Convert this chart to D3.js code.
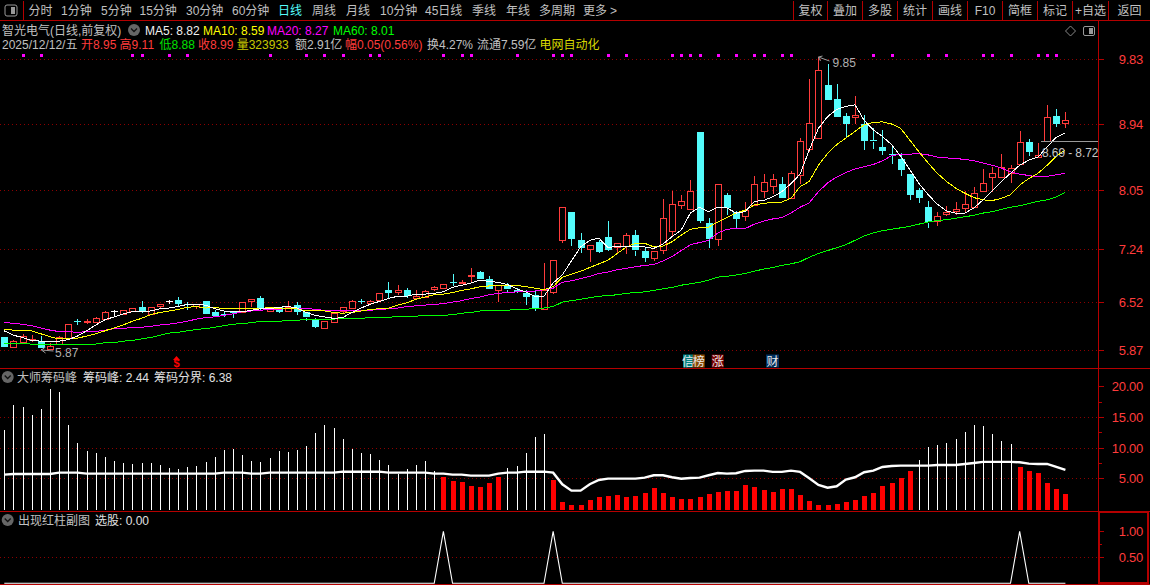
<!DOCTYPE html>
<html>
<head>
<meta charset="utf-8">
<title>智光电气</title>
<script src="https://cdn.jsdelivr.net/npm/d3@7"></script>
<style>
  html, body { margin: 0; padding: 0; background: #000; overflow: hidden; }
  svg { display: block; }
  text { font-family: "Liberation Sans", "Noto Sans CJK SC", sans-serif; font-size: 12px; }
</style>
</head>
<body>
<div id="chart"></div>
<script>
// K线
const opens = [
  6.05,5.91,5.98,6.00,5.99,5.88,5.95,6.03,6.26,6.24,
  6.25,6.29,6.40,6.36,6.40,6.45,6.36,6.47,6.53,6.55,
  6.49,6.47,6.54,6.39,6.36,6.40,6.38,6.53,6.58,6.40,
  6.46,6.40,6.48,6.38,6.29,6.17,6.25,6.40,6.44,6.53,
  6.50,6.55,6.68,6.65,6.68,6.57,6.59,6.69,6.70,6.80,
  6.78,6.87,6.93,6.83,6.68,6.75,6.69,6.64,6.62,6.42,
  6.65,7.36,7.74,7.36,7.24,7.34,7.41,7.27,7.28,7.43,
  7.21,7.11,7.22,7.50,7.84,7.79,8.83,7.59,7.37,7.98,
  7.75,7.69,7.84,8.03,8.10,8.13,7.93,8.25,8.60,8.75,
  9.47,9.28,9.05,9.03,8.94,8.72,8.63,8.53,8.46,8.26,
  8.04,7.81,7.62,7.72,7.75,7.79,7.81,8.03,8.22,8.22,
  8.27,8.39,8.70,8.49,8.72,9.05,8.95];
const closes = [
  5.92,5.99,6.06,6.02,5.89,5.92,6.04,6.22,6.25,6.26,
  6.30,6.38,6.40,6.41,6.44,6.38,6.45,6.50,6.53,6.50,
  6.48,6.50,6.37,6.34,6.35,6.37,6.52,6.56,6.44,6.43,
  6.39,6.46,6.39,6.31,6.18,6.27,6.37,6.46,6.53,6.52,
  6.53,6.64,6.64,6.68,6.60,6.60,6.67,6.72,6.76,6.79,
  6.80,6.89,6.83,6.69,6.75,6.69,6.66,6.59,6.44,6.68,
  7.09,7.81,7.38,7.25,7.29,7.21,7.23,7.32,7.43,7.22,
  7.12,7.21,7.66,7.86,7.89,8.03,7.62,7.37,8.12,7.81,
  7.65,7.77,8.12,8.15,8.19,7.94,8.27,8.71,8.95,9.67,
  9.27,9.04,8.94,9.06,8.71,8.70,8.58,8.52,8.31,7.98,
  7.93,7.60,7.69,7.75,7.78,7.85,8.00,8.14,8.28,8.35,
  8.34,8.69,8.57,8.52,9.04,8.94,8.99];
const highs = [
  6.05,6.01,6.09,6.07,6.06,5.97,6.06,6.22,6.29,6.29,
  6.32,6.40,6.41,6.41,6.44,6.54,6.45,6.50,6.55,6.59,
  6.52,6.50,6.54,6.41,6.39,6.40,6.52,6.56,6.60,6.43,
  6.46,6.53,6.52,6.38,6.31,6.27,6.37,6.46,6.55,6.56,
  6.55,6.64,6.79,6.75,6.71,6.69,6.69,6.74,6.76,6.90,
  6.82,6.98,6.94,6.88,6.75,6.78,6.71,6.69,6.69,7.05,
  7.09,7.81,7.74,7.46,7.29,7.36,7.62,7.32,7.46,7.50,
  7.26,7.21,7.92,8.03,7.98,8.18,8.83,7.67,8.12,8.00,
  7.76,7.88,8.23,8.26,8.26,8.22,8.30,8.75,9.55,9.85,
  9.76,9.48,9.09,9.32,9.06,8.88,8.86,8.63,8.54,8.26,
  8.07,7.89,7.74,7.83,7.88,8.03,8.09,8.33,8.35,8.53,
  8.38,8.85,8.74,8.68,9.20,9.14,9.11];
const lows = [
  5.92,5.91,5.98,5.98,5.87,5.87,5.95,6.03,6.21,6.22,
  6.25,6.29,6.32,6.36,6.40,6.37,6.36,6.44,6.50,6.46,
  6.42,6.43,6.36,6.32,6.32,6.30,6.38,6.45,6.40,6.38,
  6.37,6.40,6.35,6.26,6.17,6.17,6.25,6.37,6.44,6.50,
  6.50,6.55,6.56,6.62,6.57,6.57,6.57,6.67,6.70,6.74,
  6.76,6.79,6.83,6.68,6.52,6.66,6.64,6.48,6.40,6.42,
  6.63,7.33,7.28,7.19,7.07,7.19,7.22,7.17,7.17,7.15,
  7.07,7.08,7.18,7.42,7.79,7.79,7.60,7.26,7.28,7.70,
  7.52,7.62,7.84,7.94,7.99,7.93,7.93,8.12,8.56,8.75,
  9.26,9.04,8.75,8.94,8.59,8.60,8.52,8.40,8.24,7.91,
  7.87,7.53,7.56,7.69,7.70,7.74,7.81,8.03,8.01,8.20,
  8.14,8.39,8.51,8.48,8.72,8.90,8.88];

// 均线
const ma5 = [
  6.13,6.07,6.04,6.00,5.99,5.98,5.99,6.01,6.06,6.13,
  6.21,6.28,6.32,6.36,6.39,6.39,6.40,6.43,6.44,6.46,
  6.49,6.49,6.48,6.43,6.40,6.39,6.39,6.41,6.43,6.43,
  6.45,6.46,6.44,6.38,6.34,6.32,6.30,6.31,6.38,6.44,
  6.49,6.53,6.57,6.60,6.60,6.63,6.63,6.64,6.66,6.72,
  6.75,6.78,6.82,6.80,6.79,6.76,6.70,6.66,6.60,6.60,
  6.78,6.89,7.08,7.27,7.36,7.39,7.26,7.28,7.28,7.27,
  7.27,7.25,7.31,7.41,7.50,7.73,7.81,7.75,7.81,7.80,
  7.73,7.75,7.89,7.90,7.95,8.02,8.13,8.26,8.59,8.88,
  9.04,9.14,9.18,9.20,8.99,8.86,8.77,8.66,8.50,8.32,
  8.13,7.98,7.85,7.76,7.73,7.73,7.80,7.91,8.03,8.16,
  8.27,8.38,8.45,8.49,8.63,8.76,8.82];
const ma10 = [
  6.15,6.14,6.14,6.13,6.09,6.05,6.02,6.02,6.03,6.06,
  6.09,6.13,6.17,6.21,6.26,6.30,6.35,6.38,6.40,6.42,
  6.45,6.46,6.44,6.45,6.43,6.43,6.44,6.43,6.43,6.45,
  6.43,6.44,6.43,6.40,6.40,6.40,6.38,6.37,6.38,6.40,
  6.42,6.43,6.44,6.48,6.51,6.56,6.59,6.62,6.63,6.65,
  6.68,6.70,6.73,6.74,6.75,6.75,6.75,6.73,6.71,6.69,
  6.73,6.86,6.90,6.94,6.99,7.04,7.09,7.18,7.27,7.32,
  7.32,7.27,7.28,7.34,7.43,7.51,7.53,7.54,7.61,7.67,
  7.73,7.77,7.84,7.86,7.88,7.88,7.93,8.09,8.16,8.38,
  8.54,8.66,8.75,8.84,8.93,8.96,8.97,8.94,8.88,8.72,
  8.56,8.41,8.27,8.16,8.07,8.00,7.94,7.91,7.90,7.93,
  7.98,8.11,8.20,8.27,8.38,8.50,8.59];
const ma20 = [
  6.25,6.23,6.22,6.20,6.17,6.14,6.12,6.12,6.11,6.12,
  6.12,6.14,6.16,6.16,6.18,6.18,6.19,6.21,6.22,6.24,
  6.26,6.29,6.31,6.32,6.34,6.36,6.39,6.40,6.41,6.42,
  6.42,6.44,6.44,6.44,6.42,6.41,6.40,6.40,6.40,6.40,
  6.41,6.42,6.43,6.44,6.46,6.47,6.48,6.49,6.50,6.52,
  6.54,6.57,6.59,6.62,6.64,6.65,6.66,6.66,6.67,6.69,
  6.71,6.79,6.81,6.84,6.87,6.91,6.93,6.96,6.98,7.00,
  7.02,7.03,7.08,7.14,7.22,7.30,7.33,7.36,7.46,7.51,
  7.52,7.52,7.58,7.62,7.65,7.67,7.73,7.81,7.87,8.02,
  8.14,8.22,8.28,8.33,8.36,8.39,8.44,8.51,8.53,8.53,
  8.54,8.52,8.49,8.48,8.47,8.46,8.44,8.41,8.38,8.34,
  8.29,8.26,8.24,8.22,8.23,8.25,8.27];
const ma60 = [
  5.96,5.96,5.96,5.95,5.95,5.95,5.95,5.95,5.95,5.95,
  5.95,5.97,5.97,5.99,6.00,6.02,6.04,6.07,6.10,6.11,
  6.13,6.15,6.16,6.18,6.20,6.22,6.23,6.24,6.26,6.26,
  6.26,6.27,6.27,6.29,6.29,6.29,6.29,6.30,6.30,6.30,
  6.31,6.31,6.31,6.33,6.33,6.33,6.34,6.34,6.34,6.35,
  6.37,6.38,6.40,6.40,6.41,6.41,6.42,6.42,6.44,6.44,
  6.46,6.52,6.54,6.56,6.58,6.60,6.61,6.62,6.64,6.65,
  6.66,6.68,6.70,6.72,6.75,6.77,6.79,6.82,6.86,6.87,
  6.89,6.91,6.94,6.97,6.99,7.02,7.04,7.07,7.13,7.18,
  7.22,7.26,7.30,7.36,7.42,7.46,7.49,7.51,7.53,7.55,
  7.58,7.61,7.63,7.64,7.66,7.68,7.70,7.73,7.75,7.78,
  7.81,7.83,7.86,7.89,7.91,7.95,8.01];

// 大师筹码峰
const chipPeak = [
  12.89,16.97,16.64,15.33,16.31,19.58,19.09,13.70,10.77,9.46,
  9.14,8.48,7.83,7.50,7.34,7.50,7.50,7.18,6.69,6.53,
  6.85,7.01,7.67,8.48,9.62,9.79,8.81,7.83,7.67,8.32,
  9.46,9.30,9.62,10.28,12.40,13.70,13.21,11.42,9.79,9.14,
  8.97,7.99,7.18,5.71,6.53,7.18,7.83,6.20,5.22,4.57,
  4.40,3.75,3.59,4.24,5.22,6.69,7.01,9.14,11.75,12.23,
  4.73,1.14,0.65,0.65,1.47,1.96,2.12,2.28,1.96,2.12,
  2.61,3.43,2.61,1.96,1.63,1.63,1.96,2.45,2.77,2.94,
  2.94,3.92,3.59,3.10,2.77,3.26,3.26,2.28,1.31,0.65,
  0.65,0.82,1.14,1.47,2.12,2.61,3.75,4.24,5.06,6.20,
  7.99,10.11,10.44,10.77,11.42,12.56,13.70,13.54,12.23,11.09,
  10.60,6.85,6.20,5.87,4.24,3.26,2.44];
const chipLine = [
  5.60,5.71,5.71,5.71,5.71,5.71,5.92,5.92,5.92,5.76,
  5.76,5.76,5.76,5.76,5.76,5.76,5.76,5.76,5.76,5.76,
  5.76,5.76,5.76,5.76,5.92,5.92,5.92,5.76,5.76,5.92,
  5.92,5.92,5.92,5.92,5.92,5.92,5.92,6.08,6.08,6.08,
  6.08,6.08,5.92,5.92,5.92,5.92,5.92,5.76,5.76,5.60,
  5.60,5.43,5.43,5.43,5.76,5.92,5.92,6.08,6.08,6.08,
  5.92,4.03,2.99,2.99,4.03,4.73,4.94,4.94,4.94,4.94,
  5.11,5.50,5.50,5.17,4.94,5.06,5.11,5.50,5.87,5.76,
  5.82,6.20,6.25,6.25,6.04,6.04,6.25,6.04,5.01,3.92,
  3.47,3.70,4.78,5.17,5.99,6.25,6.85,7.01,7.06,7.06,
  7.06,7.06,7.18,7.18,7.18,7.34,7.50,7.67,7.67,7.67,
  7.67,7.62,7.39,7.34,7.34,6.85,6.38];

// 红柱区间的序号, 选股信号落在每段第一根
const redStarts = [48, 60, 111];
const redEnds   = [54, 99, 116];

// 顶部紫色小方块所在的K线序号
const topMarks = [2,4,14,15,18,20,29,33,35,37,40,41,48,50,51,56,60,61,62,66,68,
  73,74,75,76,78,80,82,83,85,86,95,97,101,103,107,108,110,113,114,115];

// 坐标刻度
const priceTicks = [9.83, 8.94, 8.05, 7.24, 6.52, 5.87];
const chipTicks  = [20, 15, 10, 5];
const chipMinor  = [17.5, 12.5, 7.5];
const pickTicks  = [1, 0.5];
const pickMinor  = [0.75];

// 工具栏文字
const periodLabels = ["分时","1分钟","5分钟","15分钟","30分钟","60分钟","日线","周线","月线","10分钟","45日线","季线","年线","多周期","更多"];
const periodX      = [28.5,61,101,139.5,186,232,278,312,346,380,425,472,506,539,583];
const buttonLabels = ["复权","叠加","多股","统计","画线","F10","简框","标记","+自选","返回"];
const buttonEdges  = [793,827,862,897,932,967,1002,1037,1072,1108,1150];

const RED = "#ff3c3c", CYAN = "#54fcfc", LINE_RED = "#b40000", GREY = "#c0c0c0";
const N = closes.length;
const idx = d3.range(N);

const svg = d3.select("#chart").append("svg")
  .attr("width", 1150).attr("height", 585)
  .style("background", "#000");

// 三个面板共用的x, 各自的y
const x = d3.scalePoint().domain(idx).range([4.3, 1065.4]);
const cx = i => Math.round(x(i)) + 0.5;
const yPrice = d3.scaleLinear().domain([5.87, 9.83]).range([350, 58.5]);
const yChip  = d3.scaleLinear().domain([5, 20]).range([478.3, 386.3]);
const yPick  = d3.scaleLinear().domain([0.5, 1]).range([557.3, 531.3]);

function txt(g, s, px, py, color, anchor) {
  return g.append("text").attr("x", px).attr("y", py)
    .attr("fill", color).attr("text-anchor", anchor || "start").text(s);
}

// 网格
const gridG = svg.append("g").attr("shape-rendering", "crispEdges");
[[priceTicks, yPrice], [[15, 10, 5], yChip], [[0.5], yPick]].forEach(([vals, sc]) => {
  gridG.selectAll(null).data(vals).enter().append("line")
    .attr("x1", 0).attr("x2", 1098)
    .attr("y1", d => Math.round(sc(d)) + 0.5).attr("y2", d => Math.round(sc(d)) + 0.5)
    .attr("stroke", "#8c0000").attr("stroke-dasharray", "1 3");
});

// 边框
const frame = svg.append("g").attr("stroke", LINE_RED).attr("shape-rendering", "crispEdges");
[20.5, 368.5, 511.5, 584.5].forEach(y => {
  frame.append("line").attr("x1", 0).attr("x2", 1150).attr("y1", y).attr("y2", y);
});
frame.append("line").attr("x1", 1098.5).attr("x2", 1098.5).attr("y1", 20).attr("y2", 585).attr("stroke-width", 1.5);
frame.append("rect").attr("x", 1099).attr("y", 512).attr("width", 49).attr("height", 71)
  .attr("fill", "none").attr("stroke-width", 2);

// 工具栏
const bar = svg.append("g");
bar.append("rect").attr("x", 5).attr("y", 5).attr("width", 12).attr("height", 11).attr("rx", 2)
  .attr("fill", "none").attr("stroke", "#999");
bar.append("rect").attr("x", 11).attr("y", 7).attr("width", 4).attr("height", 7).attr("fill", "#999");
frame.append("line").attr("x1", 23.5).attr("x2", 23.5).attr("y1", 1).attr("y2", 20);
periodLabels.forEach((s, i) => txt(bar, s, periodX[i], 14.5, s === "日线" ? CYAN : GREY));
txt(bar, ">", 610, 14.5, GREY);
buttonEdges.slice(0, -1).forEach((e, i) => {
  frame.append("line").attr("x1", e + 0.5).attr("x2", e + 0.5).attr("y1", 1).attr("y2", 20);
  txt(bar, buttonLabels[i], (e + buttonEdges[i + 1]) / 2 + 0.5, 14.5, GREY, "middle");
});

// 折叠小图标
function foldIcon(px, py) {
  svg.append("circle").attr("cx", px).attr("cy", py).attr("r", 6).attr("fill", "#666");
  svg.append("path").attr("d", `M${px - 3},${py - 1.5}L${px},${py + 1.5}L${px + 3},${py - 1.5}`)
    .attr("fill", "none").attr("stroke", "#111").attr("stroke-width", 1.3);
}

// 标题行
const head = svg.append("g");
txt(head, "智光电气(日线,前复权)", 2, 34.5, GREY);
foldIcon(134, 30);
txt(head, "MA5: 8.82", 145, 34.5, "#f0f0f0");
txt(head, "MA10: 8.59", 203, 34.5, "#ffff00");
txt(head, "MA20: 8.27", 267, 34.5, "#ff00ff");
txt(head, "MA60: 8.01", 333, 34.5, "#00ff00");
txt(head, "2025/12/12/五", 2, 48.5, GREY);
txt(head, "开8.95", 81, 48.5, RED);
txt(head, "高9.11", 119.6, 48.5, RED);
txt(head, "低8.88", 159.6, 48.5, "#00e000");
txt(head, "收8.99", 198, 48.5, RED);
txt(head, "量323933", 236.7, 48.5, "#c8c800");
txt(head, "额2.91亿", 295, 48.5, GREY);
txt(head, "幅0.05(0.56%)", 345, 48.5, RED);
txt(head, "换4.27%", 427, 48.5, GREY);
txt(head, "流通7.59亿", 477, 48.5, GREY);
txt(head, "电网自动化", 539.6, 48.5, "#d8d800");

// 右上角图标
svg.append("path").attr("d", "M1070.5,26L1075.5,31L1070.5,36L1065.5,31Z").attr("fill", "none").attr("stroke", "#888");
svg.append("rect").attr("x", 1083.5).attr("y", 26.5).attr("width", 11).attr("height", 9).attr("rx", 1.5)
  .attr("fill", "none").attr("stroke", "#999");
svg.append("rect").attr("x", 1089).attr("y", 28).attr("width", 4).attr("height", 6).attr("fill", "#999");

// 紫色小方块
svg.append("g").selectAll("rect").data(topMarks).enter().append("rect")
  .attr("x", d => cx(d) - 1.5).attr("y", 54).attr("width", 3).attr("height", 3).attr("fill", "#ff00ff");

// 蜡烛图
const candles = svg.append("g").attr("shape-rendering", "crispEdges");
idx.forEach(i => {
  const up = closes[i] > opens[i], flat = closes[i] === opens[i];
  const col = flat ? "#ffffff" : up ? RED : CYAN;
  const top = yPrice(Math.max(opens[i], closes[i]));
  const bot = yPrice(Math.min(opens[i], closes[i]));
  candles.append("line").attr("x1", cx(i)).attr("x2", cx(i))
    .attr("y1", yPrice(highs[i])).attr("y2", top).attr("stroke", col);
  candles.append("line").attr("x1", cx(i)).attr("x2", cx(i))
    .attr("y1", bot).attr("y2", yPrice(lows[i])).attr("stroke", col);
  if (up) {
    candles.append("rect").attr("x", cx(i) - 3).attr("width", 6)
      .attr("y", Math.round(top) + 0.5).attr("height", Math.max(1, Math.round(bot - top)))
      .attr("fill", "#000").attr("stroke", col);
  } else {
    candles.append("rect").attr("x", cx(i) - 3.5).attr("width", 7)
      .attr("y", Math.round(top)).attr("height", Math.max(1, Math.round(bot - top)))
      .attr("fill", col);
  }
});

// 均线
const maLine = d3.line().x((d, i) => x(i)).y(d => yPrice(d));
[[ma60, "#00ff00"], [ma20, "#ff00ff"], [ma10, "#ffff00"], [ma5, "#ffffff"]].forEach(([s, c]) => {
  svg.append("path").attr("d", maLine(s)).attr("fill", "none").attr("stroke", c)
    .attr("stroke-width", 1).attr("shape-rendering", "crispEdges");
});

// 高低点标注
const noteG = svg.append("g");
noteG.append("path").attr("d", `M${cx(4)},${yPrice(5.87)}l4,-3M${cx(4)},${yPrice(5.87)}l4,3M${cx(4)},${yPrice(5.87)}L${cx(4) + 12},${yPrice(5.87) + 1}`)
  .attr("fill", "none").attr("stroke", "#999");
txt(noteG, "5.87", 55, 356.5, "#b0b0b0");
noteG.append("path").attr("d", `M${cx(89)},${yPrice(9.85)}l4,-1M${cx(89)},${yPrice(9.85)}l2,4M${cx(89)},${yPrice(9.85)}L${cx(89) + 11},${yPrice(9.85) + 4}`)
  .attr("fill", "none").attr("stroke", "#999");
txt(noteG, "9.85", 832.5, 67, "#b0b0b0");
noteG.append("line").attr("x1", 1041).attr("x2", 1098).attr("y1", 141.5).attr("y2", 141.5)
  .attr("stroke", "#999").attr("shape-rendering", "crispEdges");
txt(noteG, "8.69 - 8.72", 1042, 156.5, "#c8c8c8").style("letter-spacing", "-0.1px");

// 事件标记
const badges = svg.append("g");
[["信", 683, 10, "#008080"], ["榜", 692.7, 12, "#8a4a00"], ["涨", 711.7, 12, "#7a0000"], ["财", 766, 13, "#00305f"]].forEach(([s, bx, w, c]) => {
  badges.append("rect").attr("x", bx).attr("y", 354.5).attr("width", w).attr("height", 13).attr("fill", c);
  txt(badges, s, bx + w / 2, 365.5, "#e8e8e8", "middle");
});
badges.append("path").attr("d", "M173,360L176.5,356L180,360Z").attr("fill", "#ff0000");
badges.append("text").attr("x", 176.5).attr("y", 367).attr("text-anchor", "middle")
  .attr("fill", "#ff0000").attr("font-weight", "bold").style("font-size", "11px").text("$");

// 筹码峰柱
const isRed = i => redStarts.some((s, k) => i >= s && i <= redEnds[k]);
const chipG = svg.append("g").attr("shape-rendering", "crispEdges");
chipG.selectAll("rect").data(idx).enter().append("rect")
  .attr("x", i => isRed(i) ? cx(i) - 2.5 : cx(i) - 0.5)
  .attr("width", i => isRed(i) ? 5 : 1)
  .attr("y", i => yChip(chipPeak[i]))
  .attr("height", i => yChip(0) + 1 - yChip(chipPeak[i]))
  .attr("fill", i => isRed(i) ? "#ff0000" : "#ffffff");
svg.append("path")
  .attr("d", d3.line().x((d, i) => x(i)).y(d => yChip(d))(chipLine))
  .attr("fill", "none").attr("stroke", "#ffffff").attr("stroke-width", 2.4);

foldIcon(7.7, 377);
const chipHead = svg.append("g");
txt(chipHead, "大师筹码峰", 17, 381.5, GREY);
txt(chipHead, "筹码峰: 2.44", 83, 381.5, "#e0e0e0");
txt(chipHead, "筹码分界: 6.38", 154, 381.5, "#e0e0e0");

// 出现红柱副图
const pickSeries = idx.map(i => redStarts.includes(i) ? 1 : 0);
svg.append("path")
  .attr("d", d3.line().x((d, i) => x(i)).y(d => yPick(d))(pickSeries))
  .attr("fill", "none").attr("stroke", "#ffffff").attr("stroke-width", 1.1);

foldIcon(7.7, 520);
const pickHead = svg.append("g");
txt(pickHead, "出现红柱副图", 18, 524.5, GREY);
txt(pickHead, "选股: 0.00", 95, 524.5, "#e0e0e0");

// 右侧坐标
function rightAxis(sc, major, minor) {
  const g = svg.append("g").attr("transform", "translate(1098.5,0)")
    .call(d3.axisRight(sc).tickValues(major).tickSize(5).tickSizeOuter(0).tickFormat(d3.format(".2f")));
  g.select(".domain").remove();
  g.selectAll(".tick line").attr("stroke", LINE_RED).attr("shape-rendering", "crispEdges");
  g.selectAll(".tick text").attr("x", 44.5).attr("dy", "0.36em").attr("text-anchor", "end")
    .attr("fill", RED).style("font-size", "13px").style("letter-spacing", "-0.25px");
  if (minor) {
    g.selectAll(null).data(minor).enter().append("line")
      .attr("x2", 3).attr("y1", d => Math.round(sc(d)) + 0.5).attr("y2", d => Math.round(sc(d)) + 0.5)
      .attr("stroke", LINE_RED).attr("shape-rendering", "crispEdges");
  }
}
rightAxis(yPrice, priceTicks);
rightAxis(yChip, chipTicks, chipMinor);
rightAxis(yPick, pickTicks, pickMinor);
</script>
</body>
</html>
